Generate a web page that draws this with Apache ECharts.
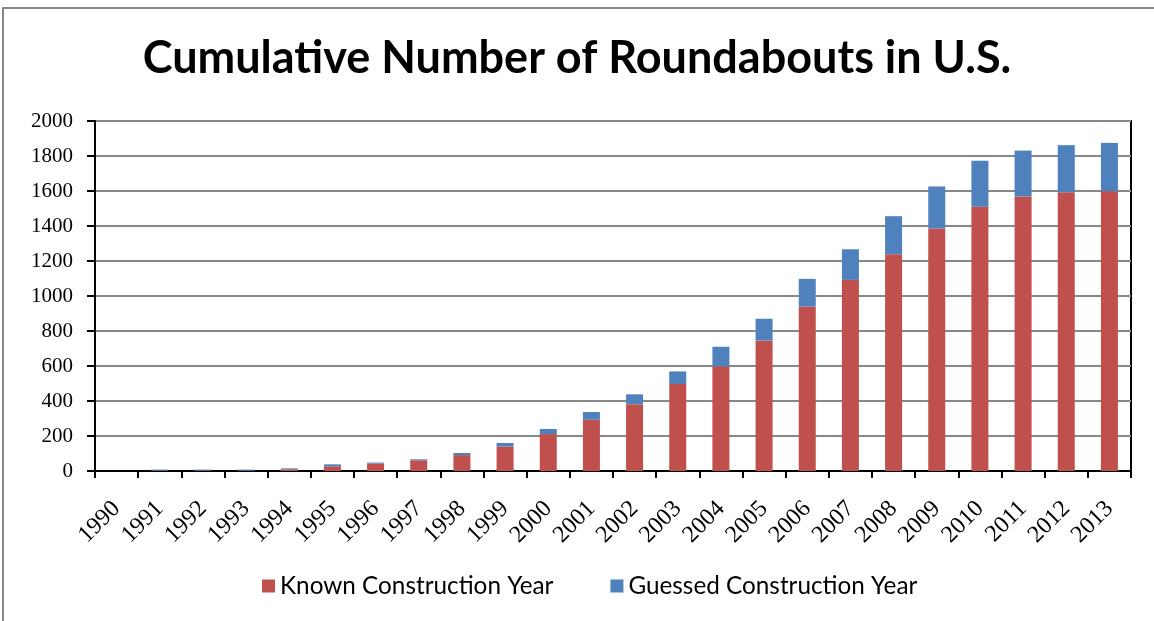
<!DOCTYPE html>
<html>
<head>
<meta charset="utf-8">
<script src="https://cdn.jsdelivr.net/npm/echarts@6/dist/echarts.min.js"></script>
<style>
  html, body { margin: 0; padding: 0; background: #fff; }
  #chart { width: 1154px; height: 621px; }
</style>
</head>
<body>
<div id="chart"></div>
<script>
// data
const years = ['1990', '1991', '1992', '1993', '1994', '1995', '1996', '1997', '1998', '1999', '2000', '2001',
  '2002', '2003', '2004', '2005', '2006', '2007', '2008', '2009', '2010', '2011', '2012', '2013'];
const knownYear = [0, 2, 2, 2, 10, 27, 42, 61, 91, 140, 211, 293,
  382, 497, 598, 746, 940, 1092, 1239, 1386, 1510, 1569, 1593, 1599];
const guessedYear = [0, 6, 6, 6, 5, 11, 6, 6, 12, 20, 29, 44,
  56, 72, 112, 124, 158, 175, 217, 240, 263, 262, 269, 276];

const myChart = echarts.init(document.getElementById('chart'));

const option = {
  animation: false,
  color: ['#C0504D', '#4F81BD'],
  title: {
    text: 'Cumulative Number of Roundabouts in U.S.',
    left: 'center',
    top: 31,
    textStyle: {
      fontFamily: 'Lato',
      fontWeight: 'bold',
      fontSize: 45,
      color: '#000'
    }
  },
  graphic: [
    {
      type: 'rect',
      shape: { x: 3, y: 8, width: 1170, height: 640 },
      style: { fill: 'none', stroke: '#888', lineWidth: 2 },
      silent: true
    }
  ],
  legend: {
    data: ['Known Construction Year', 'Guessed Construction Year'],
    left: 257,
    top: 569,
    itemWidth: 13,
    itemHeight: 13,
    itemGap: 57,
    icon: 'rect',
    textStyle: { fontFamily: 'Lato', fontSize: 24.3, color: '#000' }
  },
  grid: {
    left: 95,
    right: 23,
    top: 121,
    bottom: 150,
    show: true,
    borderColor: '#000',
    borderWidth: 2
  },
  xAxis: {
    type: 'category',
    data: years,
    axisLine: { lineStyle: { color: '#000', width: 2 } },
    axisTick: { show: true, alignWithLabel: false, length: 7, lineStyle: { color: '#000', width: 2 } },
    axisLabel: {
      rotate: 45,
      margin: 34,
      fontFamily: 'Liberation Serif',
      fontSize: 24,
      color: '#000',
      interval: 0
    }
  },
  yAxis: {
    type: 'value',
    min: 0,
    max: 2000,
    interval: 200,
    axisLine: { show: true, lineStyle: { color: '#000', width: 2 } },
    axisTick: { show: true, length: 8, lineStyle: { color: '#000', width: 2 } },
    axisLabel: {
      fontFamily: 'Liberation Serif',
      fontSize: 21,
      color: '#000',
      margin: 22,
      formatter: function (value) {
        return String(value);
      }
    },
    splitLine: { lineStyle: { color: '#888', width: 2 } }
  },
  series: [
    {
      name: 'Known Construction Year',
      type: 'bar',
      stack: 'total',
      barWidth: 17,
      data: knownYear
    },
    {
      name: 'Guessed Construction Year',
      type: 'bar',
      stack: 'total',
      barWidth: 17,
      data: guessedYear
    }
  ]
};

myChart.setOption(option);
</script>
</body>
</html>
